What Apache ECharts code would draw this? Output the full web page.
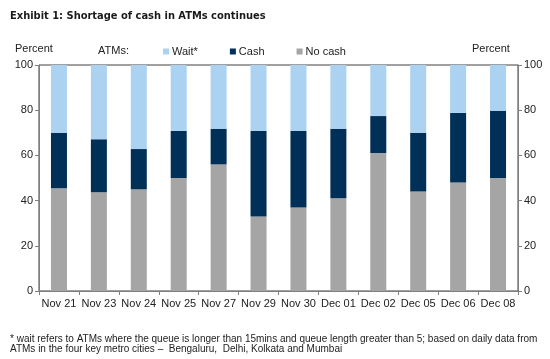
<!DOCTYPE html>
<html><head><meta charset="utf-8">
<script src="https://cdn.jsdelivr.net/npm/echarts@6/dist/echarts.min.js"></script>
<style>html,body{margin:0;padding:0;background:#fff}#c{width:550px;height:359px}</style>
</head><body><div id="c"></div>
<script>
const categories = ["Nov 21","Nov 23","Nov 24","Nov 25","Nov 27","Nov 29","Nov 30","Dec 01","Dec 02","Dec 05","Dec 06","Dec 08"];
const noCash = [45.5,43.7,45.0,50.0,56.0,33.0,37.0,41.0,61.0,44.0,48.0,50.0];
const cash   = [24.5,23.4,17.8,20.8,15.8,37.8,33.8,30.8,16.4,26.0,30.8,29.8];
const wait   = [30.0,32.9,37.2,29.2,28.2,29.2,29.2,28.2,22.6,30.0,21.2,20.2];
const yTicks = [0,20,40,60,80,100];

const chart = echarts.init(document.getElementById('c'), null, {renderer:'canvas'});
const font = 'Liberation Sans, Arial, sans-serif';
const axisCol = '#7f7f7f';
chart.setOption({
  animation:false,
  textStyle:{fontFamily:font},
  title:[
    {text:'Exhibit 1: Shortage of cash in ATMs continues', left:5, top:6,
     textStyle:{fontSize:11, fontWeight:'bold', color:'#1a1a1a', fontFamily:'DejaVu Sans Condensed, DejaVu Sans, sans-serif'}},
    {text:'Percent', left:10, top:38, textStyle:{fontSize:11, fontWeight:'normal', color:'#222', fontFamily:font}},
    {text:'ATMs:', left:93, top:40, textStyle:{fontSize:11, fontWeight:'normal', color:'#222', fontFamily:font}},
    {text:'Percent', left:467, top:38, textStyle:{fontSize:11, fontWeight:'normal', color:'#222', fontFamily:font}},
    {text:'* wait refers to ATMs where the queue is longer than 15mins and queue length greater than 5; based on daily data from\nATMs in the four key metro cities –  Bengaluru,  Delhi, Kolkata and Mumbai',
     left:5, top:329, textStyle:{fontSize:10, lineHeight:10, fontWeight:'normal', color:'#222', fontFamily:font}}
  ],
  legend:{
    left:158, top:41, itemWidth:6, itemHeight:6, itemGap:32, icon:'rect',
    textStyle:{fontSize:11, color:'#222', padding:[0,0,0,-2]},
    data:['Wait*','Cash','No cash']
  },
  grid:{left:39, right:32, top:65, bottom:68, show:true, borderColor:'#404040', borderWidth:1, backgroundColor:'transparent'},
  xAxis:{
    type:'category', data:categories, boundaryGap:true,
    axisLine:{lineStyle:{color:axisCol}},
    axisTick:{show:true, lineStyle:{color:axisCol}, length:4},
    axisLabel:{fontSize:11, color:'#222', margin:7, interval:0}
  },
  yAxis:[
    {type:'value', min:0, max:100, interval:20, position:'left',
     axisLine:{show:true, lineStyle:{color:axisCol}}, axisTick:{show:true, length:4, lineStyle:{color:axisCol}},
     splitLine:{show:false}, axisLabel:{fontSize:11, color:'#222', margin:6,
       formatter:v=>yTicks.includes(v)?String(v):''}},
    {type:'value', min:0, max:100, interval:20, position:'right',
     axisLine:{show:true, lineStyle:{color:axisCol}}, axisTick:{show:true, length:4, lineStyle:{color:axisCol}},
     splitLine:{show:false}, axisLabel:{fontSize:11, color:'#222', margin:6,
       formatter:v=>yTicks.includes(v)?String(v):''}}
  ],
  series:[
    {name:'No cash', type:'bar', stack:'a', data:noCash, barWidth:16, itemStyle:{color:'#a5a5a5'}},
    {name:'Cash', type:'bar', stack:'a', data:cash, barWidth:16, itemStyle:{color:'#003057'}},
    {name:'Wait*', type:'bar', stack:'a', data:wait, barWidth:16, itemStyle:{color:'#abd2f0'}}
  ]
});
</script></body></html>
